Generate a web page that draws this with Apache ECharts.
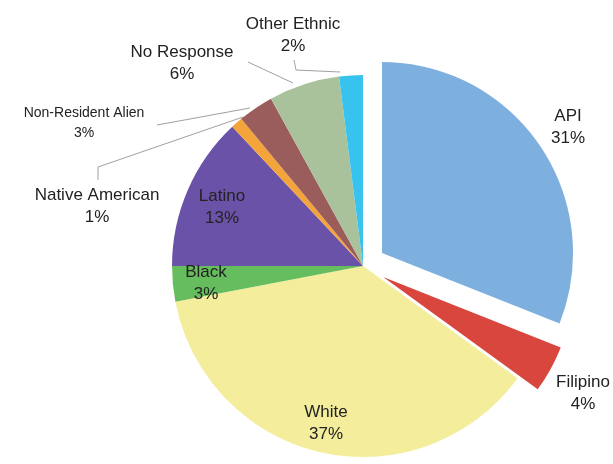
<!DOCTYPE html>
<html><head><meta charset="utf-8">
<script src="https://cdn.jsdelivr.net/npm/echarts@6/dist/echarts.min.js"></script>
<style>html,body{margin:0;padding:0;background:#fff}#c{width:613px;height:464px}</style>
</head><body><div id="c"></div>
<script>
const categories = ['API','Filipino','White','Black','Latino','Native American','Non-Resident Alien','No Response','Other Ethnic'];
const percents = [31,4,37,3,13,1,3,6,2];
const exploded = ['API','Filipino'];
const colors = ['#7eb0df','#d9463d','#f4ee9c','#66bd5e','#6a52a8','#f3a43a','#9b5c5c','#a9c29c','#38c3ee'];

// label placement (x, y centre of text block) and leader lines
const labelPos = {
  'API': {x:568, y:127},
  'Filipino': {x:583, y:393},
  'White': {x:326, y:423},
  'Black': {x:206, y:283},
  'Latino': {x:222, y:207},
  'Native American': {x:97, y:206, line:[[243,117],[98,167],[98,180]]},
  'Non-Resident Alien': {x:84, y:123, line:[[250,108],[157,125],[157,125]]},
  'No Response': {x:182, y:63, line:[[293,83],[248,62],[248,62]]},
  'Other Ethnic': {x:293, y:35, line:[[340,72],[296,70],[294,60]]}
};

const baseLabel = {
  position: 'outside',
  overflow: 'none',
  formatter: '{b}\n{c}%',
  fontFamily: 'Liberation Sans, Arial, sans-serif',
  fontSize: 17,
  lineHeight: 22,
  color: '#222',
  align: 'center'
};
function layout(p) {
  const pos = labelPos[categories[p.dataIndex]];
  const r = {x: pos.x, y: pos.y, align: 'center', verticalAlign: 'middle'};
  if (pos.line) r.labelLinePoints = pos.line;
  return r;
}
const common = {
  type: 'pie',
  center: [363, 266],
  radius: 191,
  startAngle: 90,
  clockwise: true,
  avoidLabelOverlap: false,
  emphasis: {disabled: true},
  labelLine: {show: true, lineStyle: {color: '#a0a0a0', width: 1}},
  labelLayout: layout
};

const chart = echarts.init(document.getElementById('c'), null, {renderer:'canvas'});
chart.setOption({
  animation: false,
  backgroundColor: '#fff',
  series: [
    Object.assign({}, common, {
      selectedMode: 'multiple',
      selectedOffset: 23,
      itemStyle: {borderWidth: 0},
      label: Object.assign({show: true}, baseLabel),
      data: categories.map((name, i) => {
        const isEx = exploded.indexOf(name) >= 0;
        const d = {
          name: name,
          value: percents[i],
          selected: isEx,
          itemStyle: {color: colors[i]}
        };
        if (!labelPos[name].line) d.labelLine = {show: false};
        if (isEx) d.label = {show: false};
        if (name === 'Non-Resident Alien') d.label = {fontSize: 14, lineHeight: 20};
        return d;
      })
    }),
    // label carrier for the exploded slices (no fill)
    Object.assign({}, common, {
      silent: true,
      itemStyle: {color: 'rgba(0,0,0,0)', borderWidth: 0},
      label: Object.assign({show: false}, baseLabel),
      labelLine: {show: false},
      data: categories.map((name, i) => ({
        name: name,
        value: percents[i],
        label: {show: exploded.indexOf(name) >= 0}
      }))
    })
  ]
});
</script></body></html>
